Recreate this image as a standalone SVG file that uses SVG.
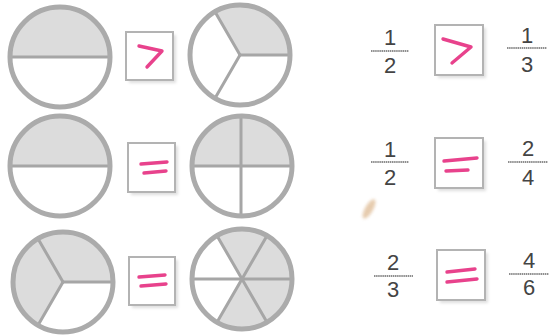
<svg xmlns="http://www.w3.org/2000/svg" width="556" height="336" viewBox="0 0 556 336">
<defs>
<style>
.ring{fill:none;stroke:#ababab;stroke-width:5}
.shade{fill:#dcdcdc}
.spoke{stroke:#a6a6a6;stroke-width:3;fill:none;stroke-linecap:round}
.box{fill:#fff;stroke:#b3b3b3;stroke-width:2}
.shadow{fill:#dedede;filter:url(#soft)}
.pink{fill:none;stroke:#e8428c;stroke-width:3.4;stroke-linecap:round;stroke-linejoin:round}
.num{font-family:"Liberation Sans",Arial,sans-serif;font-size:22px;fill:#444;text-anchor:middle}
.bar{stroke:#6a6a6a;stroke-width:1.6;stroke-dasharray:1.5 0.6}
.stain{fill:#dcb68c;opacity:0.7;filter:url(#blur)}
</style>
<filter id="soft" x="-20%" y="-20%" width="140%" height="140%"><feGaussianBlur stdDeviation="1.5"/></filter>
<filter id="blur" x="-50%" y="-50%" width="200%" height="200%"><feGaussianBlur stdDeviation="1.5"/></filter>
</defs>
<rect width="556" height="336" fill="#fff"/>

<!-- Row 1 -->
<g id="circle-1-2-a">
<path class="shade" d="M10,57 A50,50 0 0 1 110,57 Z"/>
<line class="spoke" x1="10" y1="57" x2="110" y2="57"/>
<circle class="ring" cx="60" cy="57" r="50"/>
</g>
<g id="box-gt-a">
<rect class="shadow" x="129" y="35" width="47" height="48"/>
<rect class="box" x="126" y="32" width="47" height="48"/>
<polyline class="pink" points="139,46 162,51 147,67"/>
</g>
<g id="circle-1-3">
<path class="shade" d="M240,55 L290,55 A50,50 0 0 0 215,11.7 Z"/>
<line class="spoke" x1="240" y1="55" x2="290" y2="55"/>
<line class="spoke" x1="240" y1="55" x2="215" y2="11.7"/>
<line class="spoke" x1="240" y1="55" x2="215" y2="98.3"/>
<circle class="ring" cx="240" cy="55" r="50"/>
</g>

<!-- Row 2 -->
<g id="circle-1-2-b">
<path class="shade" d="M10,166 A50,50 0 0 1 110,166 Z"/>
<line class="spoke" x1="10" y1="166" x2="110" y2="166"/>
<circle class="ring" cx="60" cy="166" r="50"/>
</g>
<g id="box-eq-a">
<rect class="shadow" x="131" y="146" width="47" height="49"/>
<rect class="box" x="128" y="143" width="47" height="49"/>
<line class="pink" x1="141" y1="164" x2="167" y2="162"/>
<line class="pink" x1="144" y1="173" x2="166" y2="171"/>
</g>
<g id="circle-2-4">
<path class="shade" d="M192,166 A50,50 0 0 1 292,166 Z"/>
<line class="spoke" x1="192" y1="166" x2="292" y2="166"/>
<line class="spoke" x1="241" y1="116" x2="241" y2="216"/>
<circle class="ring" cx="242" cy="166" r="50"/>
</g>

<!-- Row 3 -->
<g id="circle-2-3">
<path class="shade" d="M63,282 L113,282 A50,50 0 1 0 38,325.3 Z"/>
<line class="spoke" x1="63" y1="282" x2="113" y2="282"/>
<line class="spoke" x1="63" y1="282" x2="38" y2="238.7"/>
<line class="spoke" x1="63" y1="282" x2="38" y2="325.3"/>
<circle class="ring" cx="63" cy="282" r="50"/>
</g>
<g id="box-eq-b">
<rect class="shadow" x="132" y="260" width="46" height="48"/>
<rect class="box" x="129" y="257" width="46" height="48"/>
<line class="pink" x1="139" y1="277" x2="165" y2="275"/>
<line class="pink" x1="141" y1="286" x2="166" y2="284"/>
</g>
<g id="circle-4-6">
<path class="shade" d="M242,279 L217,322.3 A50,50 0 1 0 217,235.7 Z"/>
<line class="spoke" x1="192" y1="279" x2="292" y2="279"/>
<line class="spoke" x1="217" y1="235.7" x2="267" y2="322.3"/>
<line class="spoke" x1="217" y1="322.3" x2="267" y2="235.7"/>
<circle class="ring" cx="242" cy="279" r="50"/>
</g>

<!-- Right column: fractions -->
<g id="frac-1-2-a">
<text class="num" x="390" y="45">1</text>
<line class="bar" x1="371" y1="51" x2="409" y2="51"/>
<text class="num" x="390" y="73">2</text>
</g>
<g id="box-gt-b">
<rect class="shadow" x="438" y="28" width="48" height="50"/>
<rect class="box" x="435" y="25" width="48" height="50"/>
<polyline class="pink" points="443,39 471,47 452,63"/>
</g>
<g id="frac-1-3">
<text class="num" x="527" y="43">1</text>
<line class="bar" x1="507" y1="48" x2="547" y2="48"/>
<text class="num" x="527" y="72">3</text>
</g>

<g id="frac-1-2-b">
<text class="num" x="390" y="157">1</text>
<line class="bar" x1="371" y1="162" x2="409" y2="162"/>
<text class="num" x="390" y="185">2</text>
</g>
<g id="box-eq-c">
<rect class="shadow" x="438" y="141" width="48" height="50"/>
<rect class="box" x="435" y="138" width="48" height="50"/>
<line class="pink" x1="444" y1="161" x2="477" y2="158"/>
<line class="pink" x1="446" y1="171" x2="468" y2="170"/>
</g>
<g id="frac-2-4">
<text class="num" x="528" y="156">2</text>
<line class="bar" x1="508" y1="162" x2="548" y2="162"/>
<text class="num" x="528" y="185">4</text>
</g>

<g id="frac-2-3">
<text class="num" x="393" y="270">2</text>
<line class="bar" x1="374" y1="276" x2="413" y2="276"/>
<text class="num" x="393" y="297">3</text>
</g>
<g id="box-eq-d">
<rect class="shadow" x="440" y="253" width="48" height="50"/>
<rect class="box" x="437" y="250" width="48" height="50"/>
<line class="pink" x1="447" y1="272" x2="475" y2="269"/>
<line class="pink" x1="447" y1="282" x2="477" y2="279"/>
</g>
<g id="frac-4-6">
<text class="num" x="529" y="268">4</text>
<line class="bar" x1="509" y1="274" x2="549" y2="274"/>
<text class="num" x="529" y="295">6</text>
</g>

<ellipse class="stain" cx="369" cy="209" rx="4" ry="11" transform="rotate(30 369 209)"/>
</svg>
